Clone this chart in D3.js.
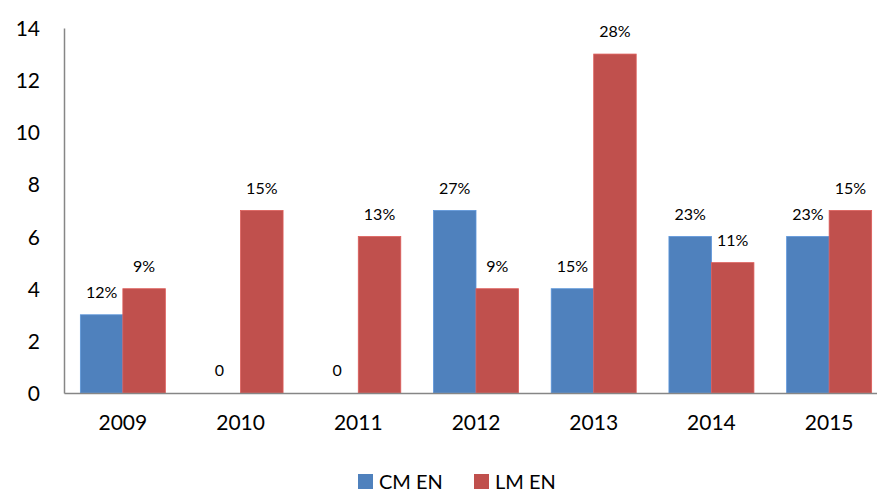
<!DOCTYPE html>
<html>
<head>
<meta charset="utf-8">
<script src="https://cdn.jsdelivr.net/npm/d3@7"></script>
<style>
  html, body { margin: 0; padding: 0; background: #fff; overflow: hidden; }
  svg { display: block; font-family: Lato, "Open Sans", sans-serif; }
</style>
</head>
<body>
<script>
// Counts per year for the two groups, plus the percentage labels shown above the bars
const years = ["2009", "2010", "2011", "2012", "2013", "2014", "2015"];
const cmValues = [3, 0, 0, 7, 4, 6, 6];
const lmValues = [4, 7, 6, 4, 13, 5, 7];
const cmLabels = ["12%", "0", "0", "27%", "15%", "23%", "23%"];
const lmLabels = ["9%", "15%", "13%", "9%", "28%", "11%", "15%"];
const seriesNames = ["CM EN", "LM EN"];
const seriesColors = ["#4F81BD", "#C0504D"];
const yTicks = [0, 2, 4, 6, 8, 10, 12, 14];

const width = 877, height = 492;
const plot = { left: 64, right: 888, top: 28, bottom: 393 };

const svg = d3.select("body").append("svg")
  .attr("width", width).attr("height", height);

const series = seriesNames.map((name, i) => ({
  name,
  color: seriesColors[i],
  values: i === 0 ? cmValues : lmValues,
  labels: i === 0 ? cmLabels : lmLabels
}));

const x = d3.scaleBand().domain(years)
  .range([plot.left, plot.right])
  .paddingInner(0.278).paddingOuter(0.139);
const xs = d3.scaleBand().domain(seriesNames).range([0, x.bandwidth()]);
const y = d3.scaleLinear().domain([0, 14]).range([plot.bottom, plot.top]);

// Bars
const groups = svg.append("g").selectAll("g")
  .data(series).join("g")
  .attr("fill", d => d.color);

groups.selectAll("rect")
  .data(s => s.values.map((v, i) => ({ year: years[i], v, s })))
  .join("rect")
  .attr("x", d => x(d.year) + xs(d.s.name))
  .attr("width", xs.bandwidth())
  .attr("y", d => y(d.v))
  .attr("height", d => y(0) - y(d.v))
  .attr("stroke", d => d3.color(d.s.color).brighter(0.4))
  .attr("stroke-width", 0.8);

// Value labels
svg.append("g").selectAll("g")
  .data(series).join("g")
  .selectAll("text")
  .data(s => s.values.map((v, i) => ({ year: years[i], v, s, label: s.labels[i] })))
  .join("text")
  .attr("x", d => x(d.year) + xs(d.s.name) + xs.bandwidth() / 2)
  .attr("y", d => y(d.v) - 17)
  .attr("text-anchor", "middle")
  .attr("font-size", 16)
  .attr("fill", "#000")
  .text(d => d.label);

// Y axis
const yAxis = svg.append("g")
  .attr("transform", `translate(${plot.left},0)`)
  .call(d3.axisLeft(y).tickValues(yTicks).tickSize(0).tickPadding(24));
yAxis.select(".domain").attr("stroke", "#868686").attr("stroke-width", 1.5);
yAxis.selectAll("text").attr("font-size", 21).attr("font-family", "Lato, sans-serif").attr("fill", "#000")
  .attr("dy", "0.36em");

// X axis
const xAxis = svg.append("g")
  .attr("transform", `translate(0,${plot.bottom})`)
  .call(d3.axisBottom(x).tickSize(0).tickPadding(22));
xAxis.select(".domain").attr("stroke", "#868686").attr("stroke-width", 1.5);
xAxis.selectAll("text").attr("font-size", 21).attr("font-family", "Lato, sans-serif").attr("fill", "#000");

// Legend
const legend = svg.append("g");
const legendX = [358, 474];
series.forEach((s, i) => {
  const g = legend.append("g").attr("transform", `translate(${legendX[i]},474)`);
  g.append("rect").attr("width", 15).attr("height", 15).attr("fill", s.color);
  g.append("text").attr("x", 21).attr("y", 7.5).attr("dy", "0.36em")
    .attr("font-size", 20).attr("fill", "#000").text(s.name);
});
</script>
</body>
</html>
